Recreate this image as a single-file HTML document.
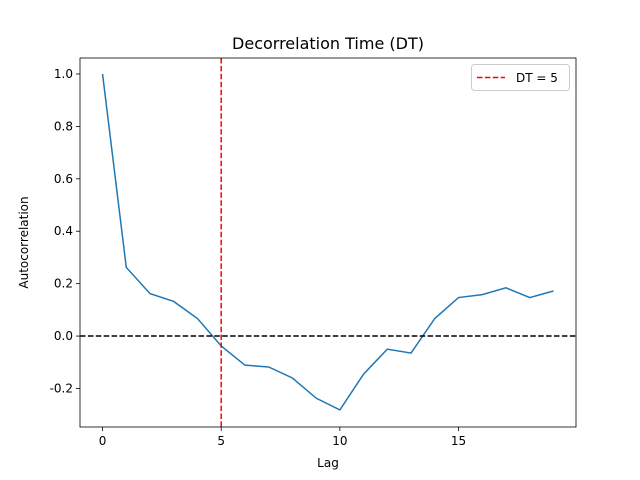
<!DOCTYPE html>
<html><head><meta charset="utf-8"><style>body{margin:0;background:#fff}svg{display:block;font-family:"DejaVu Sans","Liberation Sans",sans-serif}</style></head>
<body>
<svg id="chart" width="640" height="480"></svg>
<script>
const lags=[0,1,2,3,4,5,6,7,8,9,10,11,12,13,14,15,16,17,18,19];
const acf=[1.0,0.262,0.162,0.132,0.067,-0.038,-0.111,-0.118,-0.160,-0.237,-0.282,-0.145,-0.050,-0.065,0.067,0.147,0.158,0.184,0.147,0.172];
const xTicks=[0,5,10,15];
const yTicks=[-0.2,0.0,0.2,0.4,0.6,0.8,1.0];
const dtValue=[5];
const L=80,R=576,T=58,B=427;
const xmin=-0.95,xmax=19.95,ymin=-0.347,ymax=1.061;
const X=v=>L+(v-xmin)/(xmax-xmin)*(R-L);
const Y=v=>B-(v-ymin)/(ymax-ymin)*(B-T);
const svg=document.getElementById('chart');
const NS='http://www.w3.org/2000/svg';
function mk(tag,attrs,parent){const e=document.createElementNS(NS,tag);for(const k in attrs)e.setAttribute(k,attrs[k]);(parent||svg).appendChild(e);return e;}
let e;
// title
e=mk('text',{x:(L+R)/2,y:49,'text-anchor':'middle','font-size':16,fill:'#000'});e.textContent='Decorrelation Time (DT)';


// ticks
xTicks.forEach(t=>{
 e=mk('line',{x1:X(t),x2:X(t),y1:B,y2:B+4,stroke:'#000','stroke-width':0.8});
 
 
 e=mk('text',{x:X(t),y:B+18,'text-anchor':'middle','font-size':12});e.textContent=t;
 
 
});
yTicks.forEach(t=>{
 e=mk('line',{x1:L-4,x2:L,y1:Y(t),y2:Y(t),stroke:'#000','stroke-width':0.8});
 
 
 e=mk('text',{x:L-7,y:Y(t)+4,'text-anchor':'end','font-size':12});e.textContent=t.toFixed(1);
 
 
});
e=mk('text',{x:(L+R)/2,y:467,'text-anchor':'middle','font-size':12});e.textContent='Lag';


e=mk('text',{x:0,y:0,'text-anchor':'middle','font-size':12,transform:`translate(28,${(T+B)/2}) rotate(-90)`});e.textContent='Autocorrelation';


// series
e=mk('polyline',{points:lags.map((l,i)=>X(l)+','+Y(acf[i])).join(' '),fill:'none',stroke:'#1f77b4','stroke-width':1.5});


e=mk('line',{x1:L,x2:R,y1:Y(0),y2:Y(0),stroke:'#000','stroke-width':1.5,'stroke-dasharray':'5.5,2.4'});


e=mk('line',{x1:X(dtValue[0]),x2:X(dtValue[0]),y1:T,y2:B,stroke:'#ff0000','stroke-width':1.5,'stroke-dasharray':'5.5,2.4'});


e=mk('rect',{x:L,y:T,width:R-L,height:B-T,fill:'none',stroke:'#000','stroke-width':0.8});


// legend
const g=mk('g',{});


mk('rect',{x:471.5,y:64.5,width:98,height:26,rx:3,fill:'#fff',stroke:'#ccc'},g);
mk('line',{x1:477,x2:505,y1:77.5,y2:77.5,stroke:'#ff0000','stroke-width':1.5,'stroke-dasharray':'5.5,2.4'},g);
e=mk('text',{x:516,y:82,'font-size':12},g);e.textContent='DT = '+dtValue[0];


</script>
</body></html>
